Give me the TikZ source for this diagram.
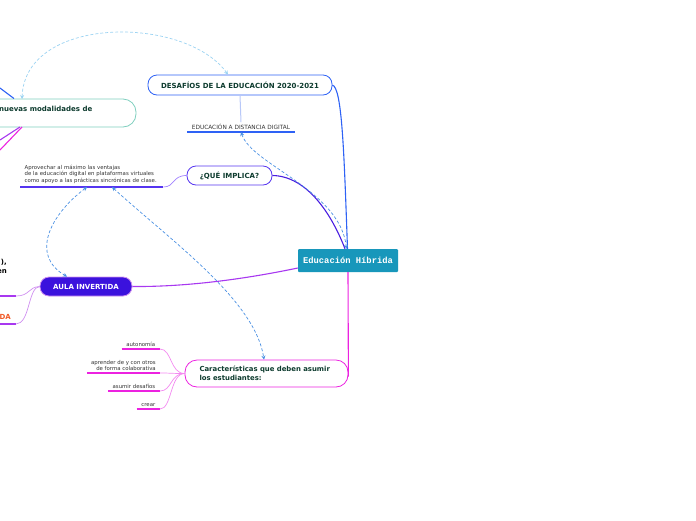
\documentclass[tikz,border=0pt]{standalone}
\usepackage{fontspec}
\setmainfont{DejaVu Sans}
\newfontfamily\hubfont{Liberation Mono}
\usepackage{tikz}
\usetikzlibrary{positioning,arrows.meta,calc}
\definecolor{hubTeal}{HTML}{1897BB}
\definecolor{inkGreen}{HTML}{0D3B2E}
\definecolor{retoBlue}{HTML}{2E62F5}
\definecolor{paleBlue}{HTML}{B8C8F8}
\definecolor{queViolet}{HTML}{5535F0}
\definecolor{queLine}{HTML}{4A1FE0}
\definecolor{queSoft}{HTML}{A080FF}
\definecolor{aulaInk}{HTML}{3B12DD}
\definecolor{aulaLine}{HTML}{A838F0}
\definecolor{aulaSoft}{HTML}{D090F0}
\definecolor{alumMag}{HTML}{EC22E0}
\definecolor{alumSoft}{HTML}{F38AF0}
\definecolor{modaTeal}{HTML}{7FCFBF}
\definecolor{relBlue}{HTML}{4A90E2}
\definecolor{relSky}{HTML}{9BD3F2}
\definecolor{cutOrange}{HTML}{F05A28}
\newcommand\topicfont{\fontsize{7}{8.5}\selectfont\bfseries}
\newcommand\leaffont{\fontsize{5.4}{6.7}\selectfont}

\begin{document}
\begin{tikzpicture}[x=1pt,y=-1pt,
    topic/.style={draw,rounded corners=9pt,fill=white,line width=0.8pt,
      font=\topicfont,text=inkGreen,inner sep=0pt},
    leaf/.style={font=\leaffont,text=black!80,inner xsep=4.5pt,inner ysep=2pt},
    rel/.style={densely dashed,line width=0.7pt,
      {Stealth[length=4pt,width=4pt]}-{Stealth[length=4pt,width=4pt]}},
    branch/.style={line width=1.1pt},
    twig/.style={line width=0.7pt}]
  \useasboundingbox (0,0) rectangle (696,520);
  \clip (0,0) rectangle (696,520);

  % central topic
  \node[fill=hubTeal,text=white,font=\hubfont\bfseries\fontsize{8.8}{10}\selectfont,
    minimum width=100pt,minimum height=23pt,inner sep=0pt,rounded corners=1pt]
    (hub) at (348,260.5) {Educación Híbrida};

  % main branches
  \node[topic,draw=retoBlue,minimum width=184pt,minimum height=20pt]
    (retos) at (240,85) {DESAFÍOS DE LA EDUCACIÓN 2020-2021};
  \node[topic,draw=queViolet,minimum width=85pt,minimum height=19pt]
    (implica) at (229.5,175.5) {¿QUÉ IMPLICA?};
  \node[topic,draw=aulaSoft,fill=aulaInk,text=white,minimum width=92pt,minimum height=19pt]
    (aula) at (86,286.5) {AULA INVERTIDA};
  \node[topic,draw=alumMag,rounded corners=12pt,minimum width=163pt,minimum height=27pt,
    text width=134pt,align=left,font=\fontsize{6.9}{9}\selectfont\bfseries]
    (alumnos) at (266.5,373.5) {Características que deben asumir\\los estudiantes:};
  \node[topic,draw=modaTeal,rounded corners=13pt,minimum width=200pt,minimum height=28pt]
    (moda) at (36,113) {};
  \node[font=\topicfont,text=inkGreen,anchor=west,inner sep=0pt]
    (modatxt) at (-1,109) {nuevas modalidades de};

  % leaves
  \node[leaf,anchor=south,minimum width=106pt,font=\fontsize{5.8}{7}\selectfont] (distancia) at (241,132)
    {EDUCACIÓN A DISTANCIA DIGITAL};
  \node[leaf,anchor=south west,text width=134pt,align=left,inner xsep=4.5pt,inner ysep=3pt]
    (ventajas) at (20,187) {Aprovechar al máximo las ventajas\\de la educación digital en plataformas virtuales\\como apoyo a las prácticas sincrónicas de clase.};
  \node[leaf,anchor=south east,align=right] (auto) at (160,349) {autonomía};
  \node[leaf,anchor=south east,align=right,inner xsep=4pt] (colab) at (160,373)
    {aprender de y con otros\\de forma colaborativa};
  \node[leaf,anchor=south east,align=right] (retar) at (160,391) {asumir desafíos};
  \node[leaf,anchor=south east,align=right] (crear) at (160,409) {crear};
  \node[font=\topicfont,anchor=north east,align=right,inner sep=0pt]
    (cortado) at (7,259) {),\\en};
  \node[font=\topicfont,text=cutOrange,anchor=south east,inner sep=0pt]
    (cortado2) at (11,320) {DA};
  \coordinate (cutA) at (0,296);
  \coordinate (cutB) at (16,296);
  \coordinate (cutC) at (0,324);
  \coordinate (cutD) at (16,324);

  % underlines
  \draw[retoBlue,line width=1.2pt] (distancia.south west) -- (distancia.south east);
  \draw[queViolet,line width=1.5pt] (ventajas.south west) -- (ventajas.south east);
  \foreach \n in {auto,colab,retar,crear}
    \draw[alumMag,line width=1.3pt] (\n.south west) -- (\n.south east);
  \draw[aulaLine,line width=1.3pt] (cutA) -- (cutB);
  \draw[aulaLine,line width=1.3pt] (cutC) -- (cutD);

  % connectors from the hub
  \draw[branch,retoBlue] (retos.east) .. controls (342,88) and (344,150) .. ([xshift=-0.5pt]hub.north);
  \draw[branch,queLine] (implica.east) .. controls (305,176) and (330,210) .. ([xshift=-3pt]hub.north);
  \draw[branch,aulaLine] ([yshift=-7.5pt]hub.west) .. controls (250,278) and (190,287) .. (aula.east);
  \draw[branch,alumMag] (hub.south) -- ([yshift=-3pt]alumnos.east);

  % connectors to leaves
  \draw[paleBlue,line width=1pt] (retos.south) -- (distancia.north);
  \draw[twig,queSoft] (implica.west) .. controls (172,175.5) and (175,187) .. (ventajas.south east);
  \foreach \n in {cutB,cutD}
    \draw[twig,aulaSoft] (aula.west) .. controls (28,287) and ($(\n)+(14,0)$) .. (\n);
  \foreach \n in {auto,colab,retar,crear}
    \draw[twig,alumSoft] (alumnos.west) .. controls (170,373.5) and ($(\n.south east)+(12,0)$) .. (\n.south east);

  % pieces of the map that leave the picture
  \coordinate (offA) at (0,88);
  \coordinate (offB) at (0,140);
  \coordinate (offC) at (0,150);
  \draw[branch,retoBlue] (offA) -- (14,98.5);
  \draw[branch,aulaLine] (offB) -- (20,127);
  \draw[branch,alumMag] (offC) -- (22,127);

  % relations
  \coordinate (modaTop) at (22,99);
  \draw[rel,relSky] (modaTop) .. controls (25,15) and (185,15) .. ([xshift=-12pt]retos.north);
  \draw[rel,relBlue] (distancia.south) .. controls (252,165) and (340,190) .. ([xshift=-1.5pt]hub.north);
  \draw[rel,relBlue] ([xshift=67pt]ventajas.south west) .. controls (50,215) and (30,255) .. ([xshift=-19pt]aula.north);
  \draw[rel,relBlue] ([xshift=92pt]ventajas.south west) .. controls (170,240) and (255,300) .. ([xshift=-2.5pt]alumnos.north);
\end{tikzpicture}
\end{document}
